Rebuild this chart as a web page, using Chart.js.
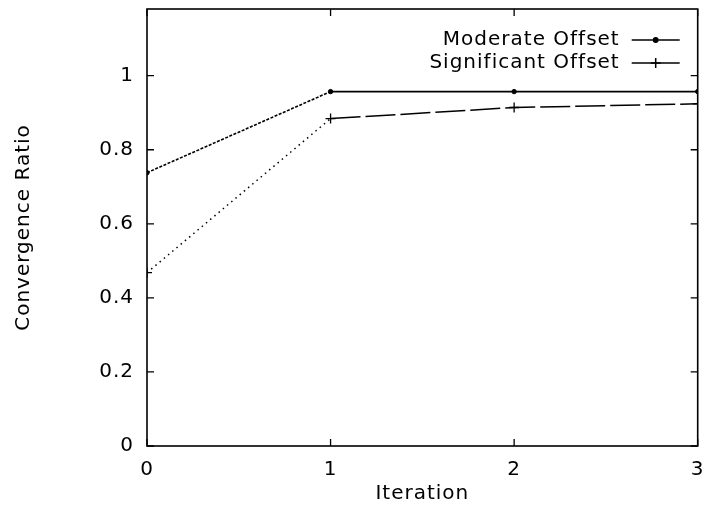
<!DOCTYPE html>
<html>
<head>
<meta charset="utf-8">
<script src="https://cdn.jsdelivr.net/npm/chart.js@4/dist/chart.umd.min.js"></script>
<style>
  html,body{margin:0;padding:0;background:#fff;}
  canvas{display:block;}
</style>
</head>
<body>
<canvas id="chart" width="704" height="509"></canvas>
<script>
// data
const iterations = [0, 1, 2, 3];
const moderateOffset = [0.738, 0.957, 0.957, 0.957];
const significantOffset = [0.468, 0.884, 0.914, 0.924];
const yTicks = [0, 0.2, 0.4, 0.6, 0.8, 1];
const seriesNames = ['Moderate Offset', 'Significant Offset'];

const INK = '#000';
const FONT = '"DejaVu Sans", sans-serif';
const FS = 20;

Chart.defaults.font.family = FONT;
Chart.defaults.font.size = FS;
Chart.defaults.color = INK;

// gnuplot style box with inward ticks on all four sides
const frame = {
  id:'frame',
  beforeDraw(chart){ chart.ctx.letterSpacing = '1px'; },
  afterDatasetsDraw(chart){
    const {ctx, chartArea:a, scales:{x, y}} = chart;
    ctx.save();
    ctx.strokeStyle = INK; ctx.lineWidth = 1.6;
    ctx.strokeRect(a.left, a.top, a.right-a.left, a.bottom-a.top);
    ctx.lineWidth = 1.3;
    ctx.beginPath();
    yTicks.forEach(v=>{
      const py = y.getPixelForValue(v);
      ctx.moveTo(a.left, py); ctx.lineTo(a.left+7, py);
      ctx.moveTo(a.right, py); ctx.lineTo(a.right-7, py);
    });
    iterations.forEach(v=>{
      const px = x.getPixelForValue(v);
      ctx.moveTo(px, a.bottom); ctx.lineTo(px, a.bottom-7);
      ctx.moveTo(px, a.top); ctx.lineTo(px, a.top+7);
    });
    ctx.stroke();
    ctx.restore();
  }
};

// key in the top right corner: label, then a short line sample with its marker
const key = {
  id:'key',
  afterDraw(chart){
    const {ctx, chartArea:a} = chart;
    ctx.save();
    ctx.font = `${FS}px ${FONT}`;
    ctx.letterSpacing = '1px';
    ctx.textAlign = 'right'; ctx.textBaseline = 'middle';
    chart.data.datasets.forEach((ds, i)=>{
      const ty = a.top + 31 + i*23;
      ctx.fillStyle = INK;
      ctx.fillText(ds.label, a.right - 78, ty);
      ctx.strokeStyle = INK; ctx.lineWidth = 1.5; ctx.setLineDash([]);
      ctx.beginPath(); ctx.moveTo(a.right-66, ty); ctx.lineTo(a.right-18, ty); ctx.stroke();
      Chart.helpers.drawPoint(ctx, {pointStyle:ds.pointStyle, rotation:ds.pointRotation||0, radius:ds.pointRadius, borderWidth:1.3}, a.right-42, ty);
    });
    ctx.restore();
  }
};

const toPoints = vals => iterations.map((it, i)=>({x:it, y:vals[i]}));

new Chart(document.getElementById('chart'), {
  type:'line',
  data:{
    datasets:[
      {
        label:seriesNames[0], data:toPoints(moderateOffset),
        borderColor:INK, backgroundColor:INK, borderWidth:1.6,
        pointStyle:'circle', pointRadius:2.2, pointBorderWidth:1,
        segment:{ borderDash: c => c.p0DataIndex===0 ? [3,1.5] : undefined }
      },
      {
        label:seriesNames[1], data:toPoints(significantOffset),
        borderColor:INK, backgroundColor:INK, borderWidth:1.5,
        pointStyle:'cross', pointRadius:5, pointBorderWidth:1.3,
        segment:{ borderDash: c => c.p0DataIndex===0 ? [1.5,4] : [30,5] }
      }
    ]
  },
  options:{
    responsive:false, animation:false, devicePixelRatio:1,
    layout:{ padding:{top:9, right:5, left:0, bottom:0} },
    plugins:{ legend:{display:false}, tooltip:{enabled:false} },
    scales:{
      x:{
        type:'linear', min:0, max:3,
        grid:{display:false, drawTicks:false}, border:{display:false},
        ticks:{padding:12, maxRotation:0, color:INK, callback:v=>String(v)},
        afterBuildTicks: s => { s.ticks = iterations.map(v=>({value:v})); },
        afterFit: s => { s.height = 63; s.paddingLeft = 0; s.paddingRight = 0; },
        title:{display:true, text:'Iteration', color:INK, padding:3}
      },
      y:{
        min:0, max:1.18,
        grid:{display:false, drawTicks:false}, border:{display:false},
        ticks:{padding:13, color:INK, callback:v=>String(v)},
        afterBuildTicks: s => { s.ticks = yTicks.map(v=>({value:v})); },
        afterFit: s => { s.width = 147; s.paddingTop = 0; s.paddingBottom = 0; },
        title:{display:true, text:'Convergence Ratio', color:INK, padding:12}
      }
    }
  },
  plugins:[frame, key]
});
</script>
</body>
</html>
